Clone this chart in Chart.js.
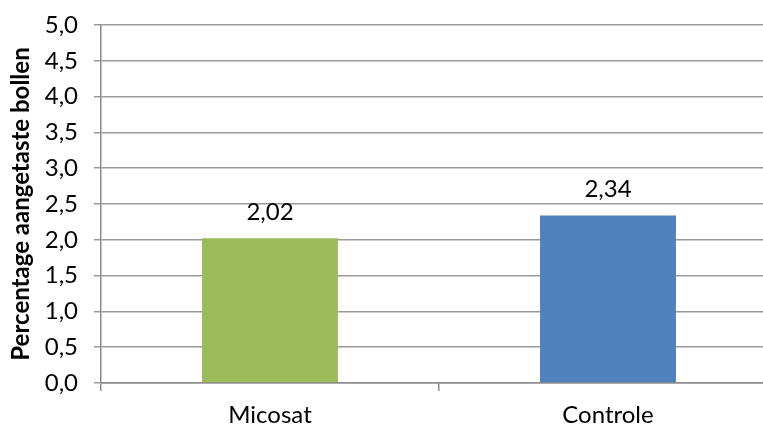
<!DOCTYPE html>
<html>
<head>
<meta charset="utf-8">
<script src="https://cdn.jsdelivr.net/npm/chart.js@4"></script>
<style>
  html, body { margin: 0; padding: 0; background: #fff; overflow: hidden; }
  #wrap { width: 800px; height: 427px; }
</style>
</head>
<body>
<div id="wrap"><canvas id="barChart" width="800" height="427"></canvas></div>
<script>
const categories = ["Micosat", "Controle"];
const values = [2.02, 2.34];
const barColors = ["#9BBB59", "#4F81BD"];
const yTitle = "Percentage aangetaste bollen";

const fontFamily = "Lato, 'Open Sans', sans-serif";
const fmt = v => v.toFixed(2).replace(".", ",");

// labels boven de staven
const valueLabels = {
  id: "valueLabels",
  afterDatasetsDraw(chart) {
    const c = chart.ctx;
    const meta = chart.getDatasetMeta(0);
    c.save();
    c.font = "24px " + fontFamily;
    c.fillStyle = "#000";
    c.textAlign = "center";
    c.textBaseline = "middle";
    meta.data.forEach((bar, i) => {
      c.fillText(fmt(values[i]), bar.x, bar.y - 26);
    });
    c.restore();
  }
};

const ctx = document.getElementById("barChart").getContext("2d");
new Chart(ctx, {
  type: "bar",
  data: {
    labels: categories,
    datasets: [{
      data: values,
      backgroundColor: barColors,
      borderWidth: 0,
      categoryPercentage: 1,
      barPercentage: 0.402
    }]
  },
  options: {
    responsive: false,
    animation: false,
    layout: { padding: { top: 25, right: 23, left: 0, bottom: 0 } },
    plugins: { legend: { display: false }, tooltip: { enabled: false } },
    scales: {
      y: {
        min: 0,
        max: 5,
        ticks: {
          stepSize: 0.5,
          color: "#000",
          padding: 16,
          font: { family: fontFamily, size: 24 },
          callback: v => v.toFixed(1).replace(".", ",")
        },
        grid: { color: "#9a9a9a", lineWidth: 1.5, tickLength: 7 },
        border: { color: "#8a8a8a", width: 1.5 },
        title: {
          display: true,
          text: yTitle,
          color: "#000",
          font: { family: fontFamily, size: 24, weight: "bold" },
          padding: { top: 7, bottom: 6 }
        },
        afterFit(scale) {
          scale.width = 101;
          scale.paddingTop = 0;
          scale.paddingBottom = 0;
        }
      },
      x: {
        ticks: {
          color: "#000",
          padding: 10,
          font: { family: fontFamily, size: 24 }
        },
        grid: { drawOnChartArea: false, color: "#8a8a8a", lineWidth: 1.5, tickLength: 8 },
        border: { color: "#8a8a8a", width: 1.5 },
        afterFit(scale) { scale.height = 44; }
      }
    }
  },
  plugins: [valueLabels]
});
</script>
</body>
</html>
